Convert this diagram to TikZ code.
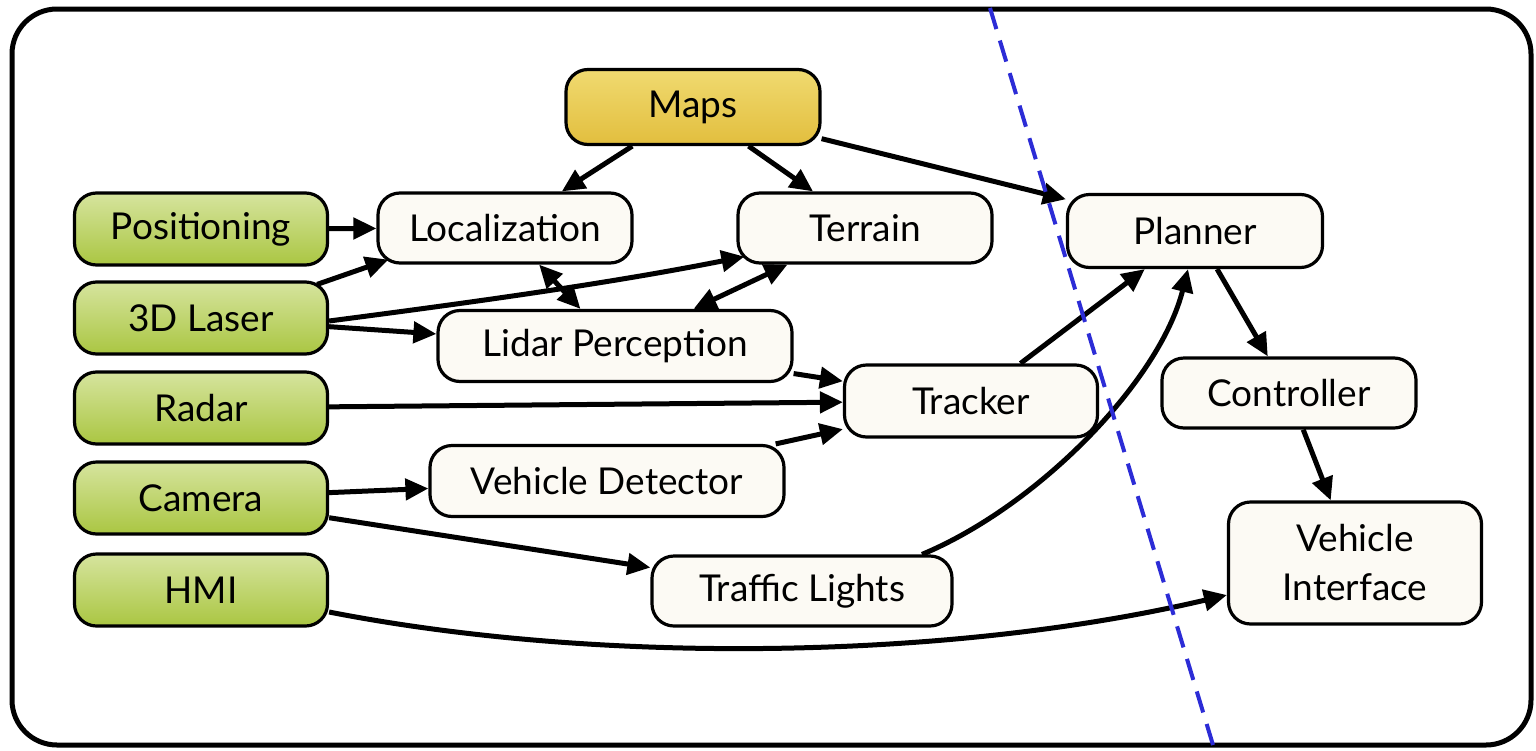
\documentclass[tikz,border=0pt]{standalone}
\usepackage{fontspec}
\setmainfont{Lato}
\usetikzlibrary{arrows.meta}

\definecolor{boxfill}{RGB}{252,250,244}
\definecolor{greentop}{RGB}{214,228,158}
\definecolor{greenbot}{RGB}{170,198,66}
\definecolor{yellowtop}{RGB}{240,218,112}
\definecolor{yellowbot}{RGB}{226,190,62}
\definecolor{divider}{RGB}{44,44,214}

\tikzset{
  block/.style={draw=black, line width=3.2pt, rounded corners=22pt,
    fill=boxfill, minimum height=72pt, inner sep=0pt, align=center,
    font=\fontsize{37}{43}\selectfont},
  sensor/.style={block, top color=greentop, bottom color=greenbot},
  mapbox/.style={block, top color=yellowtop, bottom color=yellowbot},
  link/.style={line width=5pt, -{Triangle[length=23pt,width=21pt]}},
  twoway/.style={line width=5pt, {Triangle[length=23pt,width=21pt]}-{Triangle[length=23pt,width=21pt]}},
}

\begin{document}
\begin{tikzpicture}[x=1pt,y=-1pt]
\useasboundingbox (0,0) rectangle (1536,750);

% outer frame
\draw[line width=5pt, rounded corners=45pt] (12,9) rectangle (1531,745);

% map source
\node[mapbox, minimum width=254pt, minimum height=75pt] (maps) at (693,107) {Maps};

% sensors
\node[sensor, minimum width=253pt] (pos)    at (201,229) {Positioning};
\node[sensor, minimum width=253pt] (laser)  at (201,318) {3D Laser};
\node[sensor, minimum width=253pt] (radar)  at (201,408) {Radar};
\node[sensor, minimum width=253pt] (camera) at (201,498) {Camera};
\node[sensor, minimum width=253pt] (hmi)    at (201,590) {HMI};

% processing modules
\node[block, minimum width=254pt, minimum height=70pt] (loc)     at (505,228) {Localization};
\node[block, minimum width=254pt, minimum height=70pt] (terrain) at (865,228) {Terrain};
\node[block, minimum width=255pt, minimum height=73pt] (planner) at (1195,231) {Planner};
\node[block, minimum width=354pt, minimum height=71pt] (lidar)   at (615,346) {Lidar Perception};
\node[block, minimum width=253pt, minimum height=72pt] (tracker) at (971,401) {Tracker};
\node[block, minimum width=254pt, minimum height=70pt] (ctrl)    at (1289,393) {Controller};
\node[block, minimum width=354pt, minimum height=71pt] (vdet)    at (607,481) {Vehicle Detector};
\node[block, minimum width=300pt, minimum height=70pt] (tl)      at (802,591) {Traffic Lights};
\node[block, minimum width=253pt, minimum height=122pt] (vi)     at (1355,563) {Vehicle\\[6pt]Interface};

% connectors
\draw[link] (maps) -- (loc);
\draw[link] (maps) -- (terrain);
\draw[link] (maps) -- (planner);
\draw[link] (pos) -- (loc);
\draw[link] ([xshift=-12pt,yshift=-4pt]laser.north east) -- ([xshift=12pt,yshift=5pt]loc.south west);
\draw[link] ([yshift=-3pt]laser.east) .. controls (467,303) and (606,284) .. ([xshift=8pt,yshift=8pt]terrain.south west);
\draw[link] (laser) -- (lidar);
\draw[twoway] (loc) -- (lidar);
\draw[twoway] (terrain) -- (lidar);
\draw[link] (lidar) -- (tracker);
\draw[link] (radar) -- (tracker);
\draw[link] (vdet) -- (tracker);
\draw[link] (camera) -- (vdet);
\draw[link] (camera) -- (tl);
\draw[link] (tracker) -- (planner);
\draw[link] ([xshift=120pt]tl.north) .. controls (1040,505) and (1160,380) .. ([xshift=-7pt]planner.south);
\draw[link] (planner) -- (ctrl);
\draw[link] (ctrl) -- (vi);
\draw[link] ([yshift=-22pt]hmi.east) .. controls (600,665) and (950,660) .. ([yshift=-32pt]vi.west);

% boundary line
\draw[divider, line width=4pt, dash pattern=on 22pt off 12pt] (990,8) -- (1213,745);
\end{tikzpicture}
\end{document}
